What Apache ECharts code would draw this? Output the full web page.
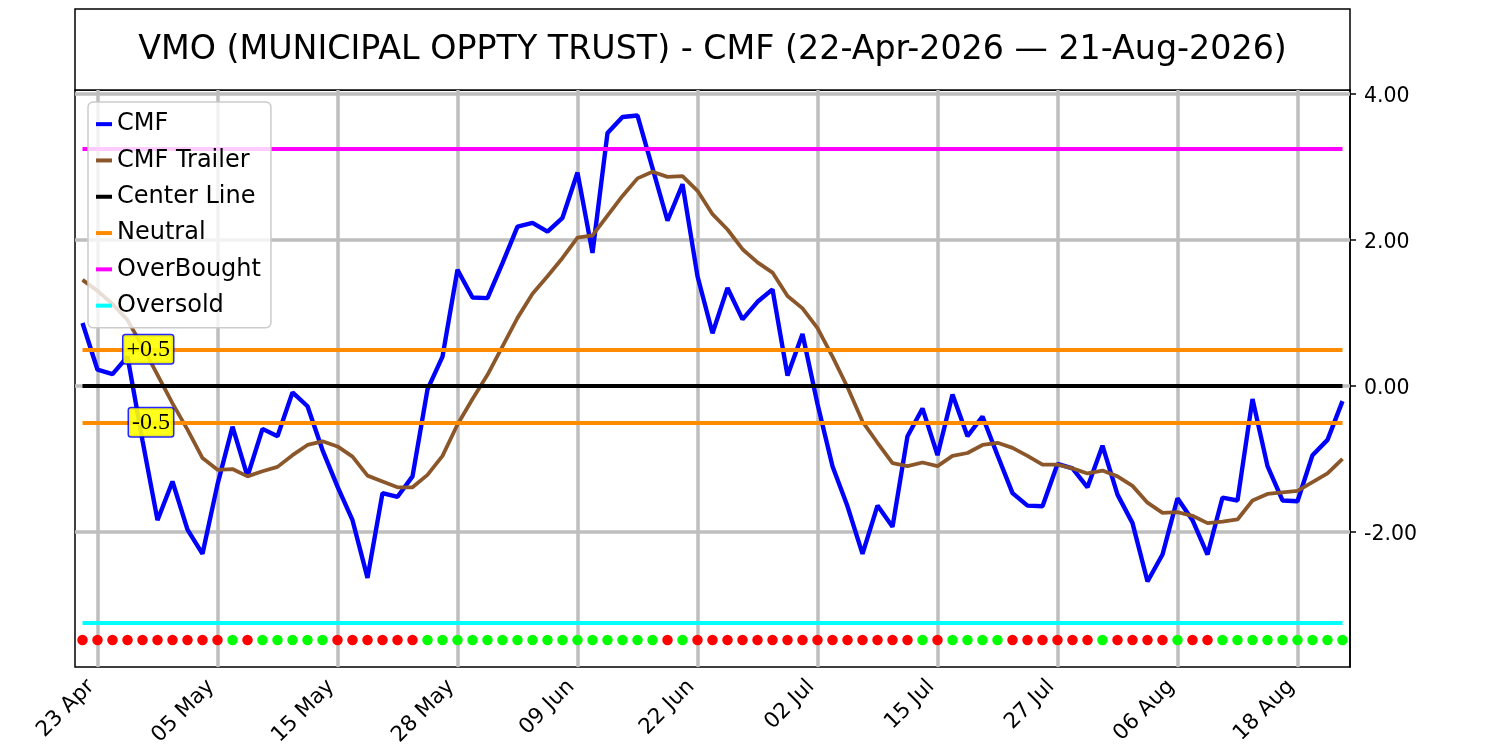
<!DOCTYPE html>
<html>
<head>
<meta charset="utf-8">
<script src="https://cdn.jsdelivr.net/npm/echarts@6/dist/echarts.min.js"></script>
<style>
html,body{margin:0;padding:0;background:#fff;}
#c{width:1500px;height:750px;}
</style>
</head>
<body>
<div id="c"></div>
<script>
// ---------- DATA ----------
const TITLE = 'VMO (MUNICIPAL OPPTY TRUST) - CMF (22-Apr-2026 \u2014 21-Aug-2026)';

const dates = [
  '22 Apr','23 Apr','24 Apr','27 Apr','28 Apr','29 Apr','30 Apr','01 May','04 May','05 May',
  '06 May','07 May','08 May','11 May','12 May','13 May','14 May','15 May','18 May','19 May',
  '20 May','21 May','22 May','26 May','27 May','28 May','29 May','01 Jun','02 Jun','03 Jun',
  '04 Jun','05 Jun','08 Jun','09 Jun','10 Jun','11 Jun','12 Jun','15 Jun','16 Jun','17 Jun',
  '18 Jun','22 Jun','23 Jun','24 Jun','25 Jun','26 Jun','29 Jun','30 Jun','01 Jul','02 Jul',
  '06 Jul','07 Jul','08 Jul','09 Jul','10 Jul','13 Jul','14 Jul','15 Jul','16 Jul','17 Jul',
  '20 Jul','21 Jul','22 Jul','23 Jul','24 Jul','27 Jul','28 Jul','29 Jul','30 Jul','31 Jul',
  '03 Aug','04 Aug','05 Aug','06 Aug','07 Aug','10 Aug','11 Aug','12 Aug','13 Aug','14 Aug',
  '17 Aug','18 Aug','19 Aug','20 Aug','21 Aug'
];

const tickLabels = ['23 Apr','05 May','15 May','28 May','09 Jun','22 Jun','02 Jul','15 Jul','27 Jul','06 Aug','18 Aug'];

const cmf = [
  0.86, 0.22, 0.16, 0.40, -0.75, -1.84, -1.31, -1.97, -2.30, -1.35,
  -0.56, -1.24, -0.59, -0.69, -0.09, -0.28, -0.88, -1.38, -1.84, -2.63,
  -1.47, -1.52, -1.24, -0.05, 0.40, 1.59, 1.21, 1.20, 1.68, 2.18,
  2.23, 2.11, 2.30, 2.92, 1.82, 3.46, 3.68, 3.70, 2.98, 2.26,
  2.76, 1.50, 0.72, 1.34, 0.91, 1.15, 1.32, 0.14, 0.71, -0.25,
  -1.10, -1.65, -2.30, -1.64, -1.93, -0.69, -0.31, -0.95, -0.12, -0.69,
  -0.42, -0.95, -1.47, -1.64, -1.65, -1.07, -1.13, -1.39, -0.82, -1.49,
  -1.88, -2.68, -2.31, -1.54, -1.84, -2.31, -1.53, -1.57, -0.18, -1.10,
  -1.57, -1.58, -0.95, -0.74, -0.21
];

const cmfTrailer = [
  1.45, 1.30, 1.12, 0.90, 0.54, 0.15, -0.24, -0.60, -0.99, -1.15,
  -1.14, -1.24, -1.17, -1.11, -0.95, -0.81, -0.76, -0.83, -0.97, -1.23,
  -1.31, -1.39, -1.39, -1.22, -0.96, -0.53, -0.18, 0.15, 0.54, 0.93,
  1.26, 1.50, 1.75, 2.03, 2.06, 2.33, 2.60, 2.84, 2.93, 2.86,
  2.87, 2.67, 2.35, 2.14, 1.87, 1.69, 1.55, 1.23, 1.06, 0.79,
  0.40, -0.02, -0.49, -0.78, -1.06, -1.10, -1.05, -1.10, -0.96, -0.92,
  -0.81, -0.78, -0.85, -0.96, -1.08, -1.08, -1.13, -1.20, -1.16, -1.24,
  -1.37, -1.60, -1.74, -1.73, -1.78, -1.88, -1.86, -1.83, -1.57, -1.48,
  -1.46, -1.44, -1.32, -1.20, -1.00
];

// 1 = green dot, 0 = red dot
const signals = [
  0,0,0,0,0,0,0,0,0,0,
  1,0,1,1,1,1,1,0,0,0,
  0,0,0,1,1,1,1,1,1,1,
  1,1,1,1,1,1,1,1,1,0,
  1,0,0,0,0,0,0,0,0,0,
  0,0,0,0,0,0,1,0,1,1,
  1,1,0,0,0,0,0,0,1,0,
  0,0,0,1,0,0,1,1,1,1,
  1,1,1,1,1
];

const yTicks = [-2, 0, 2, 4];
const CENTER = 0;
const NEUTRAL_HI = 0.5;
const NEUTRAL_LO = -0.5;
const OVERBOUGHT = 3.25;
const OVERSOLD = -3.25;
const SIGNAL_LEVEL = -3.48;
const neutralLabels = ['+0.5', '-0.5'];
const Y_MIN = -3.85;
const Y_MAX = 4.05;

// ---------- CHART ----------
const chart = echarts.init(document.getElementById('c'), null, {renderer: 'canvas', width: 1500, height: 750});

const FONT = 'DejaVu Sans';
const first = dates[0], last = dates[dates.length - 1];

function hLine(v) { return [{coord: [first, v]}, {coord: [last, v]}]; }

const refLine = (name, color, values, extra) => Object.assign({
  name: name,
  type: 'line',
  data: [],
  color: color,
  itemStyle: {color: color},
  lineStyle: {color: color, width: 4},
  symbol: 'none',
  markLine: {
    z: 3,
    silent: true,
    symbol: 'none',
    animation: false,
    label: {show: false},
    emphasis: {disabled: true},
    lineStyle: {color: color, width: 4, type: 'solid', opacity: 1},
    data: values.map(hLine)
  }
}, extra || {});

const option = {
  animation: false,
  backgroundColor: '#ffffff',
  graphic: [
    {type: 'rect', x: 75, y: 9, shape: {x: 0, y: 0, width: 1275, height: 81},
     style: {fill: '#ffffff', stroke: '#000000', lineWidth: 1.5}, z: 0},
    {type: 'text', x: 712.5, y: 50.5,
     style: {text: TITLE, font: '33.3px "DejaVu Sans"', fill: '#000', textAlign: 'center', textVerticalAlign: 'middle'}, z: 10}
  ],
  grid: {left: 75, right: 150, top: 90, bottom: 83, show: true, borderColor: '#000', borderWidth: 1.5, backgroundColor: 'transparent'},
  xAxis: {
    type: 'category',
    data: dates,
    boundaryGap: true,
    axisLine: {show: true, lineStyle: {color: '#000', width: 1.5}},
    axisTick: {show: true, alignWithLabel: true, interval: (i, v) => tickLabels.indexOf(v) >= 0, length: 6, lineStyle: {color: '#000', width: 1.5}},
    axisLabel: {show: true, interval: (i, v) => tickLabels.indexOf(v) >= 0, rotate: 45, fontSize: 21.5, fontFamily: FONT, color: '#000', margin: 10, padding: [0, 9, 0, 0]},
    splitLine: {show: false}
  },
  yAxis: {
    type: 'value',
    position: 'right',
    min: Y_MIN,
    max: Y_MAX,
    axisLine: {show: true, onZero: false, lineStyle: {color: '#000', width: 1.5}},
    axisTick: {show: true, customValues: yTicks, length: 6, lineStyle: {color: '#000', width: 1.5}},
    axisLabel: {
      show: true, customValues: yTicks,
      formatter: v => '{t|' + Number(v).toFixed(2) + '}',
      color: '#000', margin: 14,
      rich: {t: {fontSize: 20.5, fontFamily: FONT, color: '#000', padding: [6, 0, 0, 0]}}
    },
    splitLine: {show: false}
  },
  legend: {
    data: ['CMF', 'CMF Trailer', 'Center Line', 'Neutral', 'OverBought', 'Oversold'],
    orient: 'vertical',
    left: 88, top: 102,
    icon: 'rect',
    itemWidth: 16, itemHeight: 4, itemGap: 0,
    padding: [4, 10, 4, 8],
    backgroundColor: 'rgba(255,255,255,0.8)',
    borderColor: '#cccccc', borderWidth: 1.5, borderRadius: 5,
    selectedMode: false,
    textStyle: {fontSize: 24, fontFamily: FONT, color: '#000', lineHeight: 36.3}
  },
  series: [
    {
      name: '_grid', type: 'line', data: [], silent: true, symbol: 'none',
      markLine: {
        z: 1, silent: true, symbol: 'none', animation: false, label: {show: false},
        emphasis: {disabled: true},
        lineStyle: {color: '#bebebe', width: 3.5, type: 'solid', opacity: 1},
        data: tickLabels.map(t => ({xAxis: t})).concat(yTicks.map(v => ({yAxis: v})))
      }
    },
    {
      name: 'CMF', type: 'line', data: cmf, z: 2,
      color: '#0000ff', itemStyle: {color: '#0000ff'},
      symbol: 'none', showSymbol: false,
      lineStyle: {color: '#0000ff', width: 4.4}
    },
    {
      name: 'CMF Trailer', type: 'line', data: cmfTrailer, z: 2,
      color: '#8b572a', itemStyle: {color: '#8b572a'},
      symbol: 'none', showSymbol: false,
      lineStyle: {color: '#8b572a', width: 3.8}
    },
    refLine('Center Line', '#000000', [CENTER]),
    refLine('Neutral', '#ff8c00', [NEUTRAL_HI, NEUTRAL_LO], {
      markPoint: {
        z: 6,
        symbol: 'circle', symbolSize: 1,
        itemStyle: {color: 'rgba(0,0,0,0)'},
        silent: true,
        animation: false,
        label: {
          show: true, position: 'left', distance: -1, formatter: '{b}',
          fontFamily: 'Liberation Serif', fontSize: 24, lineHeight: 24, color: '#000',
          backgroundColor: 'rgba(255,255,0,0.9)', borderColor: 'rgba(0,0,255,0.85)', borderWidth: 1.5, borderRadius: 2,
          padding: [3, 3, 1, 3]
        },
        data: [
          {name: neutralLabels[0], coord: [dates[6], NEUTRAL_HI]},
          {name: neutralLabels[1], coord: [dates[6], NEUTRAL_LO]}
        ]
      }
    }),
    refLine('OverBought', '#ff00ff', [OVERBOUGHT]),
    refLine('Oversold', '#00ffff', [OVERSOLD]),
    {
      name: '_signals', type: 'scatter', z: 3, silent: true,
      symbol: 'circle', symbolSize: 10.5,
      itemStyle: {opacity: 1},
      data: signals.map((s, i) => ({value: [i, SIGNAL_LEVEL], itemStyle: {color: s ? '#00ff00' : '#ff0000', opacity: 1}}))
    }
  ]
};

chart.setOption(option);
</script>
</body>
</html>
